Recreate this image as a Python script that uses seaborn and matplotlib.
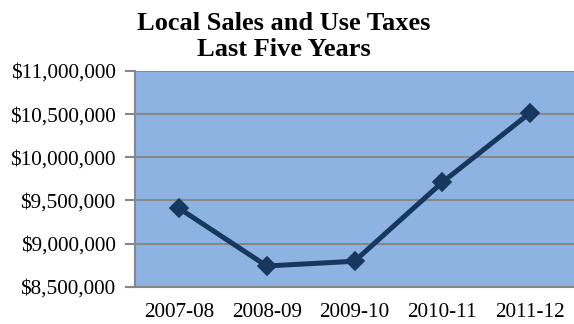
import matplotlib
matplotlib.use("Agg")
import matplotlib.pyplot as plt
from matplotlib.ticker import FuncFormatter, FixedLocator
import numpy as np
import pandas as pd
import seaborn as sns

# Fiscal years and local sales & use tax collections
fiscal_years = ["2007-08", "2008-09", "2009-10", "2010-11", "2011-12"]
tax_revenue = [9_410_000, 8_740_000, 8_795_000, 9_710_000, 10_515_000]
y_ticks = [8_500_000, 9_000_000, 9_500_000, 10_000_000, 10_500_000, 11_000_000]

df = pd.DataFrame({"year": fiscal_years, "revenue": tax_revenue})

sns.set_theme(style="white")
plt.rcParams["font.family"] = ["Liberation Serif", "DejaVu Serif"]

grid_color = "#878787"
line_color = "#17375E"
face_color = "#8DB3E2"

fig = plt.figure(figsize=(5.74, 3.24), dpi=100)
ax = fig.add_axes([135 / 574, 1 - 286.7 / 324, (574 - 135) / 574, (286.7 - 71) / 324])
ax.set_facecolor(face_color)

sns.lineplot(data=df, x="year", y="revenue", ax=ax, color=line_color,
             linewidth=3.6, marker="D", markersize=9.5,
             markeredgecolor=line_color, markeredgewidth=1.2, sort=False)

ax.set_xlim(-0.5, len(fiscal_years) - 0.5)
ax.set_ylim(y_ticks[0], y_ticks[-1])

# Horizontal gridlines at each dollar tick
ax.yaxis.set_major_locator(FixedLocator(y_ticks))
ax.yaxis.set_major_formatter(FuncFormatter(lambda v, _: f"${v:,.0f}"))
ax.grid(axis="y", color=grid_color, linewidth=1.5)
ax.grid(axis="x", visible=False)
ax.set_axisbelow(True)

# Category labels centered, tick marks between categories
ax.set_xticks(range(len(fiscal_years)))
ax.set_xticklabels(fiscal_years)
ax.set_xticks(np.arange(-0.5, len(fiscal_years)), minor=True)
ax.tick_params(axis="x", which="major", length=0, pad=12, labelsize=15.3, labelcolor="black")
ax.tick_params(axis="x", which="minor", length=6, width=1.5, color=grid_color, direction="out")
ax.tick_params(axis="y", which="major", length=7, width=1.5, color=grid_color, pad=7,
               labelsize=15.3, labelcolor="black", left=True)

ax.set_xlabel("")
ax.set_ylabel("")

for side in ["top", "right"]:
    ax.spines[side].set_visible(False)
for side in ["left", "bottom"]:
    ax.spines[side].set_visible(True)
    ax.spines[side].set_color(grid_color)
    ax.spines[side].set_linewidth(1.5)

fig.text(284 / 574, 1 - 12 / 324, "Local Sales and Use Taxes\nLast Five Years",
         ha="center", va="top", fontsize=19, fontweight="bold",
         linespacing=1.14, color="black")

fig.savefig("out.png", dpi=100, facecolor="white")
